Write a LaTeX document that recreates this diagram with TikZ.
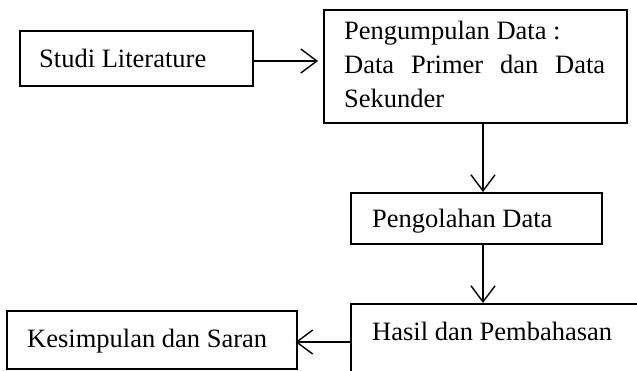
\documentclass[tikz,border=0pt]{standalone}
\usepackage{fontspec}
\setmainfont{Liberation Serif}
\usetikzlibrary{arrows.meta}
\begin{document}
\begin{tikzpicture}[x=1pt,y=-1pt,
  box/.style={draw, line width=1.5pt, inner sep=0pt, anchor=north west},
  lbl/.style={anchor=base west, inner sep=0pt, font=\fontsize{26.5}{34}\selectfont},
  flow/.style={line width=1.4pt, -{Straight Barb[length=16pt,width=24pt,line width=1.4pt]}}]
\useasboundingbox (0,0) rectangle (637,370);
\clip (0,0) rectangle (637,370);

% process boxes
\node[box, minimum width=233pt, minimum height=55pt] (lit) at (19,30) {};
\node[box, minimum width=303pt, minimum height=113pt] (pd) at (323,9) {};
\node[box, minimum width=251pt, minimum height=51pt] (olah) at (350,192) {};
\node[box, minimum width=320pt, minimum height=110pt] (hasil) at (350,303) {};
\node[box, minimum width=290pt, minimum height=58pt] (kes) at (6,310) {};

% labels
\node[lbl] at (39,67) {Studi Literature};
\node[lbl] at (344,39) {Pengumpulan Data :};
\node[lbl] at (344,73) {\makebox[261pt][s]{Data Primer dan Data}};
\node[lbl] at (344,107) {Sekunder};
\node[lbl] at (372,227) {Pengolahan Data};
\node[lbl] at (372,340) {Hasil dan Pembahasan};
\node[lbl] at (27,347) {Kesimpulan dan Saran};

% connectors
\coordinate (c1) at (483,0);
\draw[flow, shorten >=5pt] (lit.east |- 0,61) -- (pd.west |- 0,61);
\draw[flow] (pd.south -| c1) -- (olah.north -| c1);
\draw[flow] (olah.south -| c1) -- (hasil.north -| c1);
\draw[flow, shorten >=-2pt] (hasil.west |- 0,342) -- (kes.east |- 0,342);
\end{tikzpicture}
\end{document}
